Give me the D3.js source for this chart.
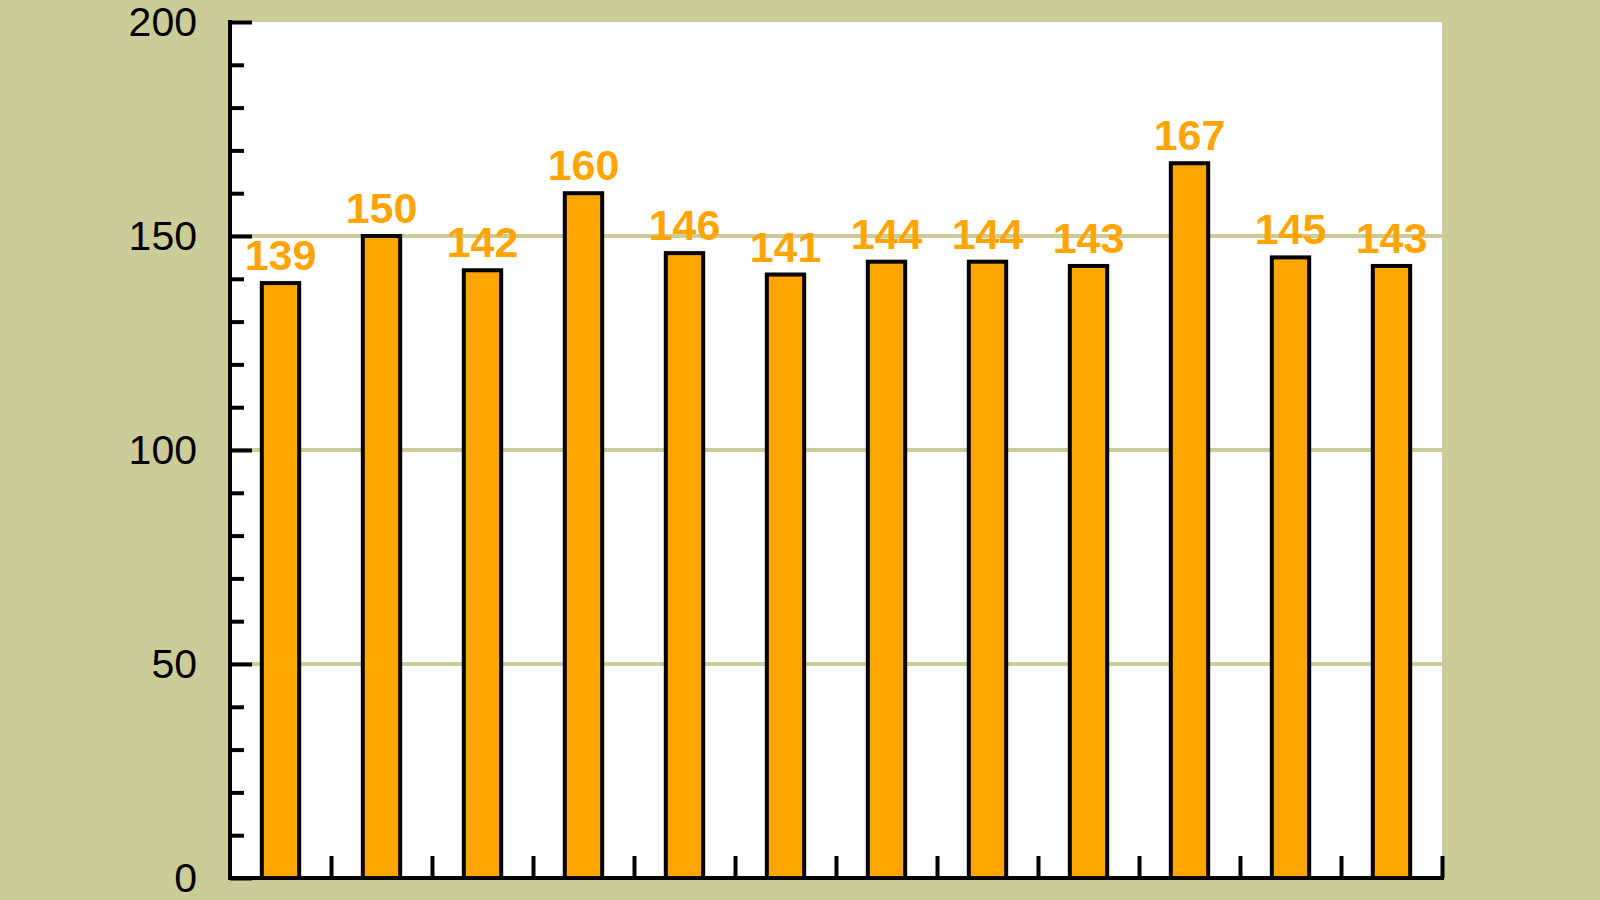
<!DOCTYPE html>
<html>
<head>
<meta charset="utf-8">
<script src="https://cdn.jsdelivr.net/npm/d3@7"></script>
<style>
  html, body { margin: 0; padding: 0; background: #cccc99; }
  svg { display: block; }
  text { font-family: "Liberation Sans", Arial, sans-serif; }
</style>
</head>
<body>
<div id="chart"></div>
<script>
// chart values
const categories = ["1", "2", "3", "4", "5", "6", "7", "8", "9", "10", "11", "12"];
const values = [139, 150, 142, 160, 146, 141, 144, 144, 143, 167, 145, 143];
const majorTicks = [0, 50, 100, 150, 200];
const minorTicks = [10, 20, 30, 40, 60, 70, 80, 90, 110, 120, 130, 140, 160, 170, 180, 190];

const W = 1600, H = 900;
const plotLeft = 230, plotRight = 1442, plotTop = 22, plotBottom = 878;

const svg = d3.select("#chart").append("svg")
    .attr("width", W)
    .attr("height", H);

svg.append("rect").attr("width", W).attr("height", H).attr("fill", "#cccc99");

// scales
const x = d3.scaleBand().domain(categories).range([plotLeft, plotRight])
    .paddingInner(0.63).paddingOuter(0.315);
const xb = d3.scaleLinear().domain([0, categories.length]).range([plotLeft, plotRight]);
const y = d3.scaleLinear().domain([0, 200]).range([plotBottom, plotTop]);

// plot area
svg.append("rect")
    .attr("x", plotLeft).attr("y", y(200))
    .attr("width", plotRight - plotLeft).attr("height", y(0) - y(200))
    .attr("fill", "#ffffff");

// gridlines
svg.append("g").selectAll("line")
    .data([50, 100, 150])
    .join("line")
    .attr("x1", plotLeft).attr("x2", plotRight)
    .attr("y1", d => y(d)).attr("y2", d => y(d))
    .attr("stroke", "#cccc99").attr("stroke-width", 4);

// bars
svg.append("g").selectAll("rect")
    .data(values)
    .join("rect")
    .attr("x", (d, i) => x(categories[i]))
    .attr("y", d => y(d))
    .attr("width", x.bandwidth())
    .attr("height", d => y(0) - y(d))
    .attr("fill", "#ffa500")
    .attr("stroke", "#000")
    .attr("stroke-width", 4);

// value labels
svg.append("g").selectAll("text")
    .data(values)
    .join("text")
    .attr("x", (d, i) => x(categories[i]) + x.bandwidth() / 2)
    .attr("y", d => y(d) - 13)
    .attr("text-anchor", "middle")
    .attr("fill", "#ffa500")
    .attr("font-weight", "bold")
    .attr("font-size", 43)
    .text(d => d);

// y axis: minor ticks
const yMinor = svg.append("g")
    .attr("transform", "translate(" + plotLeft + ",0)")
    .call(d3.axisLeft(y).tickValues(minorTicks).tickSize(-14).tickFormat(""));
yMinor.select(".domain").remove();

// y axis: major ticks + labels
const yAxis = svg.append("g")
    .attr("transform", "translate(" + plotLeft + ",0)")
    .call(d3.axisLeft(y).tickValues(majorTicks).tickSize(-22).tickPadding(33));
yAxis.select(".domain").remove();
yAxis.selectAll("text")
    .attr("font-size", 41)
    .attr("fill", "#000")
    .attr("font-family", "Liberation Sans, Arial, sans-serif");

// x axis ticks at category boundaries
const xAxis = svg.append("g")
    .attr("transform", "translate(0," + plotBottom + ")")
    .call(d3.axisBottom(xb).tickValues(d3.range(1, categories.length + 1)).tickSize(-22).tickFormat(""));
xAxis.select(".domain").remove();

svg.selectAll(".tick line").attr("stroke", "#000").attr("stroke-width", 4);

// axis lines
svg.append("line")
    .attr("x1", plotLeft).attr("x2", plotLeft)
    .attr("y1", plotTop - 2).attr("y2", plotBottom + 2)
    .attr("stroke", "#000").attr("stroke-width", 4);
svg.append("line")
    .attr("x1", plotLeft - 2).attr("x2", plotRight + 2)
    .attr("y1", plotBottom).attr("y2", plotBottom)
    .attr("stroke", "#000").attr("stroke-width", 4);
</script>
</body>
</html>
